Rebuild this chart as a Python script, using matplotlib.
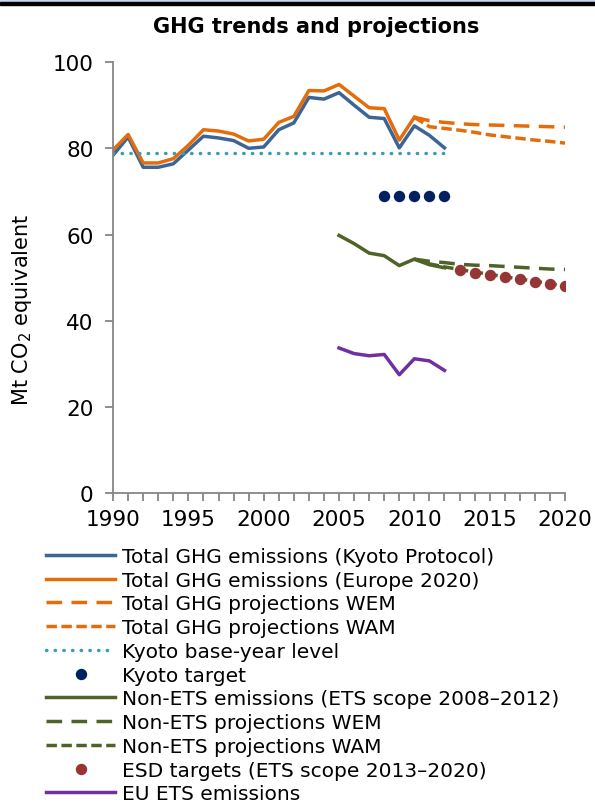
import matplotlib.pyplot as plt
from matplotlib.patches import Rectangle

# values (Mt CO2 equivalent)
years_hist = list(range(1990, 2013))
total_kyoto = [78.4, 82.6, 75.6, 75.6, 76.4, 79.6, 82.8, 82.4, 81.8, 80.0, 80.3, 84.3,
               85.9, 91.8, 91.4, 92.9, 90.0, 87.2, 86.9, 80.1, 85.2, 83.0, 80.1]
years_eu2020 = list(range(1990, 2011))
total_eu2020 = [79.6, 83.2, 76.6, 76.6, 77.6, 80.7, 84.3, 84.0, 83.3, 81.7, 82.1, 86.0,
                87.4, 93.4, 93.3, 94.8, 92.1, 89.4, 89.2, 81.9, 87.2]
years_proj = list(range(2010, 2021))
total_wem = [87.2, 86.4, 86.0, 85.7, 85.5, 85.4, 85.3, 85.2, 85.1, 85.0, 84.9]
total_wam = [87.2, 85.0, 84.6, 84.2, 83.7, 83.1, 82.7, 82.3, 81.9, 81.6, 81.2]
kyoto_base = [79.0] * len(years_hist)
years_kyoto_target = list(range(2008, 2013))
kyoto_target = [69.0, 69.0, 69.0, 69.0, 69.0]
years_ets = list(range(2005, 2013))
non_ets = [59.8, 57.9, 55.7, 55.1, 52.8, 54.3, 53.0, 52.3]
non_ets_wem = [54.3, 53.8, 53.5, 53.1, 52.9, 52.8, 52.6, 52.4, 52.2, 52.0, 51.9]
non_ets_wam = [54.3, 53.2, 52.5, 51.9, 51.3, 50.8, 50.2, 49.7, 49.2, 48.6, 48.1]
years_esd = list(range(2013, 2021))
esd_targets = [51.7, 51.2, 50.7, 50.2, 49.6, 49.1, 48.6, 48.0]
eu_ets = [33.7, 32.4, 31.9, 32.2, 27.5, 31.2, 30.7, 28.5]

blue = "#3b6596"
orange = "#e46c0a"
teal = "#3a9db0"
navy = "#002060"
green = "#4f6228"
red = "#963634"
purple = "#7030a0"
lw = 2.5

fig = plt.figure(figsize=(5.95, 8.03), dpi=100)
ax = fig.add_axes([0.190, 0.3844, 0.7596, 0.5371])

ax.plot(years_hist, total_kyoto, color=blue, lw=lw, label="Total GHG emissions (Kyoto Protocol)")
ax.plot(years_eu2020, total_eu2020, color=orange, lw=lw, label="Total GHG emissions (Europe 2020)")
ax.plot(years_proj, total_wem, color=orange, lw=lw, ls=(0, (4.5, 2.7)), label="Total GHG projections WEM")
ax.plot(years_proj, total_wam, color=orange, lw=lw, ls=(0, (3.0, 1.3)), label="Total GHG projections WAM")
ax.plot(years_hist, kyoto_base, color=teal, lw=lw, ls=(0, (0.1, 2.4)), dash_capstyle="round",
        label="Kyoto base-year level")
ax.plot(years_kyoto_target, kyoto_target, ls="none", marker="o", ms=7.2, color=navy, label="Kyoto target")
ax.plot(years_ets, non_ets, color=green, lw=lw, label="Non-ETS emissions (ETS scope 2008\u20132012)")
ax.plot(years_proj, non_ets_wem, color=green, lw=lw, ls=(0, (4.5, 2.7)), label="Non-ETS projections WEM")
ax.plot(years_proj, non_ets_wam, color=green, lw=lw, ls=(0, (3.0, 1.3)), label="Non-ETS projections WAM")
ax.plot(years_esd, esd_targets, ls="none", marker="o", ms=7.2, color=red, zorder=5,
        label="ESD targets (ETS scope 2013\u20132020)")
ax.plot(years_ets, eu_ets, color=purple, lw=lw, label="EU ETS emissions")

ax.set_xlim(1990, 2020)
ax.set_ylim(0, 100)
ax.set_xticks(range(1990, 2021))
ax.set_xticklabels([str(y) if y % 5 == 0 else "" for y in range(1990, 2021)])
ax.set_yticks(range(0, 101, 20))
for side in ["top", "right"]:
    ax.spines[side].set_visible(False)
for side in ["left", "bottom"]:
    ax.spines[side].set_color("#868686")
    ax.spines[side].set_linewidth(1.3)
ax.tick_params(colors="#868686", labelcolor="black", labelsize=15.5, length=6, width=1.3)
ax.tick_params(axis="x", pad=5)
ax.tick_params(axis="y", pad=8)
ax.set_ylabel("Mt CO$_2$ equivalent", fontsize=15)
ax.yaxis.set_label_coords(-0.175, 0.427)

fig.text(316 / 595, 1 - 27 / 803, "GHG trends and projections", ha="center", va="center",
         fontsize=15, fontweight="bold")

# top border of the panel
fig.add_artist(Rectangle((0, 1 - 3 / 803), 1, 3 / 803, transform=fig.transFigure, color="#c6d6ec"))
fig.add_artist(Rectangle((0, 1 - 6 / 803), 1, 3 / 803, transform=fig.transFigure, color="black"))

fig.legend(loc="upper left", bbox_to_anchor=(46 / 595, 1 - 548 / 803), frameon=False,
           fontsize=14.5, handlelength=3.45, handletextpad=0.34, labelspacing=0.235,
           borderpad=0, borderaxespad=0)

fig.savefig("out.png", dpi=100)
